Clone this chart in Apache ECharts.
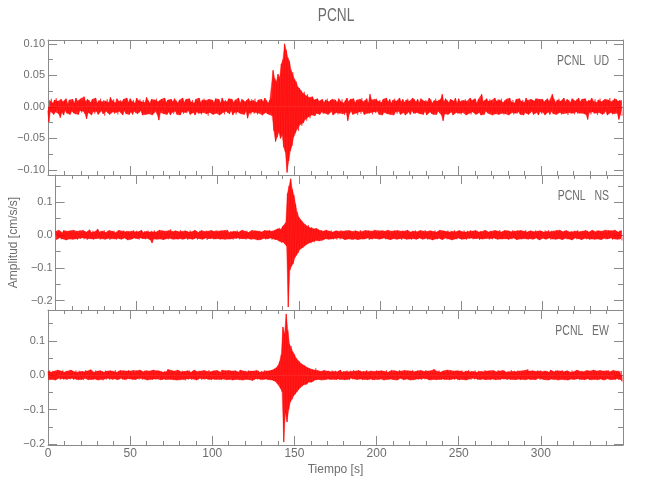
<!DOCTYPE html>
<html><head><meta charset="utf-8">
<script src="https://cdn.jsdelivr.net/npm/echarts@6/dist/echarts.min.js"></script>
<style>html,body{margin:0;padding:0;background:#fff}#c{width:650px;height:500px}</style>
</head><body><div id="c"></div><script>
// sample spacing of the traces (s)
const DT = 0.5;
const chartTitle = 'PCNL';
const stationLabels = ['PCNL   UD', 'PCNL   NS', 'PCNL   EW'];
// peak amplitudes in units of 0.001 cm/s/s, two values per second (t = 0 .. 349.5 s), one row = 25 s
const udMilli = [
-6,-24,10,-7,13,-9,6,-12,11,-8,14,-6,9,-11,7,-17,12,-9,8,-13,10,-6,13,-10,5,-9,11,-12,8,-7,12,-10,6,-11,14,-8,9,-12,11,-6,13,-9,10,-7,16,-11,8,-19,12,-9,
11,-10,7,-13,12,-8,9,-11,14,-7,6,-12,10,-9,13,-6,8,-11,11,-14,9,-7,12,-10,7,-12,15,-9,10,-8,12,-11,6,-9,13,-12,9,-7,11,-10,8,-13,12,-6,10,-11,14,-9,7,-12,
13,-8,9,-12,11,-7,6,-10,14,-11,10,-9,12,-6,8,-13,11,-10,7,-12,15,-9,10,-11,6,-8,12,-13,9,-10,11,-7,13,-12,8,-21,10,-9,12,-6,9,-11,14,-10,7,-12,11,-8,10,-13,
12,-9,8,-11,13,-7,10,-12,6,-10,11,-13,9,-8,14,-11,7,-9,12,-10,10,-6,13,-12,8,-10,11,-9,6,-13,12,-8,9,-11,14,-10,7,-12,11,-9,13,-7,10,-11,8,-14,12,-9,9,-10,
11,-12,7,-9,13,-10,10,-8,12,-13,6,-11,14,-9,9,-12,11,-7,8,-10,13,-11,10,-6,12,-13,7,-9,11,-12,9,-8,14,-10,6,-11,12,-9,10,-12,8,-7,11,-18,13,-10,9,-12,12,-8,
10,-11,13,-9,7,-12,11,-10,9,-8,12,-13,8,-10,14,-9,10,-11,6,-12,11,-9,13,-14,58,-38,45,-55,40,-48,52,-40,46,-50,68,-45,75,-64,100,-72,90,-104,78,-86,72,-70,58,-62,55,-48,
44,-42,40,-36,32,-38,30,-28,26,-30,22,-25,24,-20,18,-22,20,-16,15,-18,14,-13,16,-12,11,-14,12,-10,13,-11,9,-12,10,-8,12,-11,7,-10,11,-9,13,-12,8,-10,11,-7,12,-13,9,-10,
11,-9,7,-12,13,-10,9,-8,12,-11,6,-13,10,-9,14,-22,8,-11,12,-7,10,-12,13,-9,7,-10,11,-13,9,-8,12,-11,14,-7,8,-12,10,-9,13,-10,6,-11,20,-9,11,-12,9,-8,12,-10,
13,-7,9,-12,11,-10,7,-13,12,-9,10,-8,14,-11,8,-10,12,-12,6,-9,11,-13,13,-8,9,-11,10,-7,14,-12,8,-10,12,-9,7,-13,11,-11,13,-8,9,-12,10,-6,14,-10,12,-11,8,-9,
12,-10,7,-11,13,-9,10,-12,9,-7,11,-13,8,-10,14,-8,12,-11,6,-12,10,-9,13,-12,9,-7,11,-10,12,-13,20,-22,8,-11,13,-9,10,-12,7,-10,12,-8,11,-13,9,-10,14,-9,6,-11,
13,-10,8,-12,11,-9,10,-7,12,-13,9,-11,7,-10,14,-12,10,-8,11,-9,13,-12,6,-11,12,-9,10,-13,20,-10,8,-12,11,-7,13,-10,9,-11,12,-9,10,-13,7,-10,14,-11,9,-8,12,-12,
11,-9,13,-10,7,-12,10,-11,12,-8,9,-13,14,-10,8,-9,11,-12,6,-10,12,-11,10,-8,13,-12,9,-10,11,-13,7,-9,14,-11,10,-12,8,-10,12,-7,11,-12,9,-10,13,-9,10,-13,12,-8,
10,-11,12,-9,8,-13,11,-10,13,-8,9,-12,10,-7,20,-11,12,-9,7,-12,11,-10,13,-9,9,-12,10,-11,14,-8,8,-10,12,-13,11,-9,7,-11,13,-10,10,-12,9,-8,12,-11,14,-10,8,-9,
12,-10,9,-11,13,-12,8,-20,11,-9,10,-12,14,-8,9,-11,12,-10,7,-13,11,-9,13,-10,8,-12,10,-11,12,-7,9,-13,11,-10,14,-9,8,-12,10,-11,13,-8,12,-10,9,-20,11,-12,10,-14
];
const nsMilli = [
12,-14,9,-11,15,-8,11,-13,7,-12,14,-10,10,-15,12,-9,8,-12,13,-11,11,-13,15,-9,9,-12,12,-14,7,-10,13,-12,10,-8,14,-13,11,-10,9,-15,12,-11,16,-9,8,-12,13,-14,10,-11,
11,-12,18,-10,9,-14,13,-11,12,-9,15,-13,8,-12,11,-10,14,-15,10,-11,12,-9,13,-12,7,-14,11,-10,15,-12,9,-13,12,-11,14,-9,10,-12,13,-15,11,-10,8,-13,12,-12,15,-9,10,-11,
13,-11,10,-14,12,-9,15,-12,8,-11,12,-13,11,-10,14,-12,9,-15,13,-24,10,-12,14,-11,9,-13,12,-10,15,-12,11,-9,13,-14,8,-12,12,-11,10,-13,14,-10,18,-12,11,-13,9,-11,13,-12,
12,-14,10,-11,15,-9,11,-13,8,-12,13,-10,12,-15,9,-11,14,-12,10,-13,11,-12,15,-9,12,-14,8,-11,13,-10,14,-13,10,-12,11,-9,13,-15,12,-11,9,-12,14,-10,12,-13,11,-12,15,-9,
12,-11,9,-14,13,-12,10,-10,14,-13,11,-9,15,-12,8,-13,12,-11,10,-14,13,-10,11,-12,14,-9,9,-13,12,-11,15,-12,10,-11,12,-14,13,-10,8,-12,11,-13,14,-9,10,-12,13,-11,12,-15,
12,-11,13,-14,9,-12,11,-10,14,-13,10,-12,13,-11,15,-9,12,-14,11,-12,14,-15,17,-14,19,-18,22,-20,18,-24,26,-22,30,-28,38,-34,127,-220,150,-107,172,-95,140,-88,122,-70,95,-62,70,-55,
55,-45,48,-40,42,-38,36,-33,32,-30,28,-26,30,-24,22,-25,24,-20,19,-22,18,-17,20,-15,16,-18,14,-13,15,-16,12,-14,13,-11,15,-12,10,-13,12,-11,14,-12,9,-13,11,-10,13,-14,12,-9,
11,-13,15,-10,12,-12,9,-14,13,-11,10,-12,14,-9,12,-13,11,-15,8,-12,13,-11,12,-14,10,-10,15,-12,11,-13,9,-12,14,-11,12,-9,13,-15,10,-12,12,-13,11,-10,15,-12,9,-11,13,-14,
10,-12,13,-11,14,-9,12,-13,11,-12,15,-10,9,-14,12,-12,10,-11,13,-9,11,-13,14,-12,8,-11,12,-15,13,-10,12,-12,10,-13,15,-9,11,-12,9,-14,13,-11,12,-10,14,-13,10,-12,11,-9,
14,-12,9,-13,12,-11,15,-10,11,-14,10,-12,13,-9,12,-15,11,-11,14,-12,9,-13,12,-10,15,-12,10,-14,13,-11,12,-9,11,-13,14,-12,9,-11,13,-15,11,-10,15,-12,10,-13,12,-9,14,-12,
12,-13,10,-11,14,-12,9,-14,13,-10,11,-12,15,-9,12,-13,10,-11,14,-12,13,-10,9,-15,12,-12,11,-13,10,-11,15,-12,12,-10,9,-14,13,-11,12,-13,10,-9,14,-12,11,-13,12,-10,15,-12,
9,-13,12,-11,14,-10,11,-12,13,-15,12,-11,10,-13,15,-9,12,-12,9,-14,13,-10,11,-12,14,-13,10,-11,12,-9,15,-12,9,-14,12,-11,13,-10,11,-13,10,-12,14,-9,12,-13,11,-15,13,-11,
12,-10,9,-12,14,-13,11,-11,15,-9,10,-14,13,-12,12,-10,9,-13,14,-12,11,-11,15,-9,12,-14,10,-12,13,-10,14,-13,11,-12,9,-11,12,-15,10,-12,13,-9,12,-13,15,-11,10,-12,11,-14,
12,-12,10,-10,14,-13,13,-11,9,-15,11,-12,15,-10,12,-13,10,-9,14,-12,13,-11,9,-14,12,-12,11,-10,15,-13,10,-12,14,-11,12,-9,13,-14,11,-12,15,-10,12,-13,9,-11,13,-12,14,-16
];
const ewMilli = [
11,-13,14,-10,9,-12,13,-11,12,-14,10,-12,15,-9,11,-13,12,-10,14,-12,9,-11,13,-14,12,-10,11,-12,15,-9,12,-13,10,-11,14,-12,9,-13,13,-10,11,-12,12,-14,10,-9,15,-11,12,-13,
13,-10,16,-12,11,-13,9,-11,14,-12,12,-14,10,-10,13,-12,11,-15,9,-11,14,-12,12,-9,10,-13,13,-11,12,-14,11,-10,15,-12,9,-13,12,-11,14,-9,10,-13,13,-12,11,-14,12,-10,15,-11,
12,-11,10,-13,14,-12,9,-14,13,-10,11,-12,15,-9,12,-13,10,-11,14,-12,13,-14,9,-10,12,-12,11,-13,15,-11,10,-12,13,-11,14,-9,12,-13,11,-14,9,-11,12,-13,10,-12,17,-10,13,-12,
14,-10,11,-13,12,-12,9,-14,15,-11,12,-13,10,-9,13,-12,11,-15,10,-11,13,-12,14,-10,9,-13,12,-11,15,-12,11,-14,10,-12,13,-9,12,-13,9,-11,14,-12,12,-10,11,-13,15,-12,10,-14,
12,-11,13,-13,10,-12,14,-9,11,-12,9,-14,15,-11,12,-10,13,-13,10,-12,14,-12,11,-9,12,-14,10,-11,13,-12,12,-10,9,-13,15,-12,11,-14,12,-10,13,-12,10,-11,14,-13,12,-9,11,-15,
12,-13,11,-10,14,-12,13,-11,9,-14,12,-12,10,-13,15,-11,12,-12,11,-13,13,-12,15,-14,16,-17,19,-18,22,-24,28,-26,40,-38,60,-48,140,-194,120,-110,178,-136,130,-100,90,-78,85,-70,68,-60,
60,-55,50,-48,44,-42,40,-36,34,-32,30,-28,28,-25,24,-26,22,-20,21,-19,18,-20,16,-17,15,-14,20,-13,14,-12,13,-12,11,-14,12,-10,14,-13,9,-12,12,-11,13,-13,10,-12,14,-9,11,-12,
13,-14,10,-11,12,-13,15,-12,9,-11,12,-13,11,-10,14,-12,10,-14,13,-9,11,-12,15,-11,12,-13,9,-12,14,-10,13,-11,10,-14,12,-12,11,-9,15,-13,10,-12,13,-11,12,-14,9,-13,11,-10,
14,-12,12,-13,10,-11,13,-9,12,-14,11,-10,15,-12,9,-13,12,-11,14,-12,10,-13,13,-10,12,-14,11,-12,15,-9,12,-11,9,-13,14,-12,10,-11,13,-12,11,-14,12,-10,15,-13,10,-12,12,-11,
13,-12,10,-11,14,-13,12,-9,11,-12,15,-10,12,-13,9,-14,13,-11,10,-12,17,-11,12,-13,11,-10,14,-12,9,-13,12,-11,13,-14,10,-12,15,-9,11,-13,14,-12,10,-11,12,-13,11,-10,13,-14,
11,-13,12,-10,14,-12,9,-11,13,-14,12,-12,15,-11,10,-13,12,-9,11,-12,14,-10,9,-13,13,-12,11,-14,12,-11,10,-12,15,-13,12,-10,11,-12,13,-14,9,-11,14,-12,12,-13,10,-10,15,-12,
12,-13,11,-10,14,-12,13,-11,9,-14,12,-11,10,-13,15,-12,11,-10,13,-13,10,-12,14,-11,12,-14,9,-12,13,-10,11,-13,15,-12,18,-11,12,-14,10,-12,13,-10,12,-13,11,-12,14,-9,12,-13,
14,-11,10,-12,13,-13,12,-10,11,-14,9,-12,15,-11,12,-13,10,-12,14,-9,13,-14,11,-10,12,-12,15,-11,10,-13,12,-10,13,-14,11,-12,9,-11,14,-13,10,-12,12,-11,15,-10,13,-13,11,-12,
13,-11,10,-13,12,-12,14,-10,11,-14,12,-13,9,-11,15,-12,13,-10,12,-13,10,-12,14,-11,11,-13,12,-14,9,-12,13,-10,15,-12,10,-13,12,-11,14,-12,11,-13,12,-10,13,-14,10,-12,12,-18
];
const xMax = 350;
const xInterval = 50;
const yRanges = [[-0.108, 0.106], [-0.229, 0.1835], [-0.2026, 0.1895]];
const yMajor = [[-0.1, -0.05, 0, 0.05, 0.1], [-0.2, -0.1, 0, 0.1], [-0.2, -0.1, 0, 0.1]];
const yMinor = [[-0.075, -0.025, 0.025, 0.075], [-0.15, -0.05, 0.05, 0.15], [-0.15, -0.05, 0.05, 0.15]];
const yDecimals = [2, 1, 1];
const yName = 'Amplitud [cm/s/s]';
const xName = 'Tiempo [s]';

const traces = [udMilli, nsMilli, ewMilli];
const AX = '#8a8a8a', TX = '#6e6e6e', FONT = 'Liberation Sans';
const RED = '#ff0000';
const panelTop = [40, 175, 310], panelH = 135;

const grid = [], xAxis = [], yAxis = [], series = [], graphic = [];
for (let i = 0; i < 3; i++) {
  grid.push({left: 48, right: 27, top: panelTop[i], height: panelH, containLabel: false});
  ['bottom', 'top'].forEach(pos => {
    const showLab = (i === 2 && pos === 'bottom');
    xAxis.push({
      type: 'value', gridIndex: i, position: pos, min: 0, max: xMax, interval: xInterval,
      axisLine: {show: true, onZero: false, lineStyle: {color: AX, width: 1}},
      axisTick: {show: true, inside: true, length: 9, lineStyle: {color: AX}},
      minorTick: {show: true, splitNumber: 5, length: 4, lineStyle: {color: AX}},
      splitLine: {show: false}, minorSplitLine: {show: false},
      axisLabel: {show: showLab, margin: 3, color: TX, fontFamily: FONT, fontSize: 12,
        formatter: v => (v >= xMax ? '' : String(v))},
      name: showLab ? xName : '', nameLocation: 'middle', nameGap: 19,
      nameTextStyle: {color: TX, fontFamily: FONT, fontSize: 12}
    });
  });
  const [mn, mx] = yRanges[i];
  const fmt = v => Number(v).toFixed(yDecimals[i]).replace('-', '\u2212');
  ['left', 'right'].forEach(pos => {
    yAxis.push({
      type: 'value', gridIndex: i, position: pos, min: mn, max: mx,
      axisLine: {show: true, onZero: false, lineStyle: {color: AX, width: 1}},
      axisTick: {show: true, inside: true, length: 9, customValues: yMajor[i], lineStyle: {color: AX}},
      axisLabel: {show: pos === 'left', customValues: yMajor[i], margin: 3, color: TX,
        fontFamily: FONT, fontSize: 11, formatter: fmt},
      splitLine: {show: false},
      name: (pos === 'left' && i === 1) ? yName : '', nameLocation: 'middle', nameGap: 28,
      nameTextStyle: {color: TX, fontFamily: FONT, fontSize: 12}
    });
    yAxis.push({
      type: 'value', gridIndex: i, position: pos, min: mn, max: mx,
      axisLine: {show: false, onZero: false},
      axisTick: {show: true, inside: true, length: 5, customValues: yMinor[i], lineStyle: {color: AX}},
      axisLabel: {show: false},
      splitLine: {show: false}
    });
  });
  const pts = traces[i].map((v, k) => [k * DT, v / 1000]);
  // positive peaks (upper envelope) and negative peaks (lower envelope), each filled to zero
  [pts.filter(p => p[1] >= 0), pts.filter(p => p[1] < 0)].forEach(side => {
    series.push({
      type: 'line', xAxisIndex: 2 * i, yAxisIndex: 4 * i, data: side,
      showSymbol: false, symbol: 'none', clip: true,
      lineStyle: {color: RED, width: 0.7, opacity: 0.55},
      areaStyle: {color: RED, opacity: 0.82, origin: 0}
    });
  });
  series.push({
    type: 'line', xAxisIndex: 2 * i, yAxisIndex: 4 * i, data: pts,
    showSymbol: false, symbol: 'none', clip: true,
    lineStyle: {color: RED, width: 0.7, opacity: 0.75}
  });
  graphic.push({
    type: 'text', x: 609, y: panelTop[i] + 21, scaleX: 0.75,
    style: {text: stationLabels[i], fill: TX, font: '14px "Liberation Sans"',
      textAlign: 'right', textVerticalAlign: 'middle'}
  });
}
graphic.push({
  type: 'text', x: 336, y: 16, scaleX: 0.72,
  style: {text: chartTitle, fill: TX, font: '19px "Liberation Sans"',
    textAlign: 'center', textVerticalAlign: 'middle'}
});

const chart = echarts.init(document.getElementById('c'), null, {renderer: 'canvas'});
chart.setOption({animation: false, backgroundColor: '#ffffff', grid, xAxis, yAxis, series, graphic});
</script></body></html>
